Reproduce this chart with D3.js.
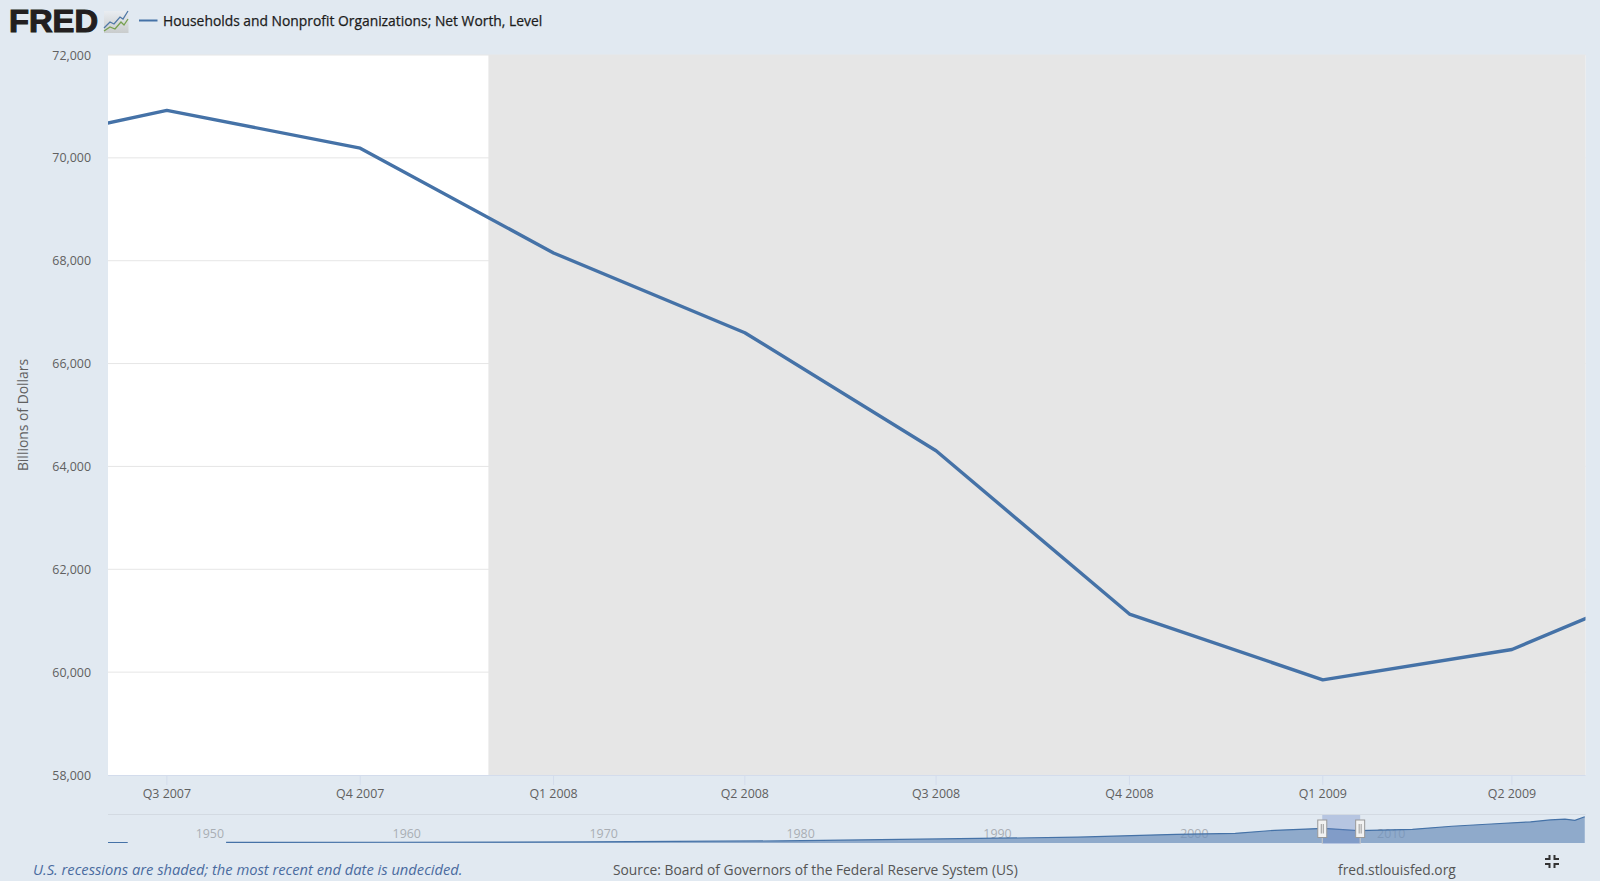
<!DOCTYPE html>
<html>
<head>
<meta charset="utf-8">
<title>FRED</title>
<script src="https://cdn.jsdelivr.net/npm/d3@7"></script>
<style>
	html, body { margin: 0; padding: 0; background: #e1e9f1; overflow: hidden; }
	svg { display: block; }
	text { font-family: "Open Sans", sans-serif; }
	.tick-label { font-size: 12.4px; fill: #606060; }
	.nav-label { font-size: 12.4px; fill: #a9aeb4; }
	.foot { font-size: 13.8px; fill: #555; }
</style>
</head>
<body>
<svg id="chart" width="1600" height="881"></svg>
<script>
var quarters = ["2007-04-01", "2007-07-01", "2007-10-01", "2008-01-01", "2008-04-01", "2008-07-01", "2008-10-01", "2009-01-01", "2009-04-01", "2009-07-01"];
var netWorth = [70120, 70924, 70189, 68150, 66600, 64305, 61130, 59850, 60440, 62000];
var tickDates = ["2007-07-01", "2007-10-01", "2008-01-01", "2008-04-01", "2008-07-01", "2008-10-01", "2009-01-01", "2009-04-01"];
var tickLabels = ["Q3 2007", "Q4 2007", "Q1 2008", "Q2 2008", "Q3 2008", "Q4 2008", "Q1 2009", "Q2 2009"];
var yTicks = [58000, 60000, 62000, 64000, 66000, 68000, 70000, 72000];
var viewStart = "2007-06-03", viewEnd = "2009-05-06";
var recession = ["2007-12-01", "2009-06-01"];

var navDates = ["1945-10-01", "1946-10-01", "1946-10-02", "1951-10-01", "1960-01-01", "1970-01-01", "1980-01-01", "1985-01-01", "1990-01-01", "1995-01-01", "2000-01-01", "2003-01-01", "2005-01-01", "2007-07-01", "2009-04-01", "2012-01-01", "2014-01-01", "2016-01-01", "2018-01-01", "2019-01-01", "2019-10-01", "2020-04-01", "2020-10-01"];
var navValues = [1000, 1100, null, 1500, 2300, 3800, 9000, 15000, 21000, 27000, 41000, 46000, 61000, 70900, 59900, 66000, 81000, 92000, 103000, 112000, 116000, 110000, 128000];
var navYears = [1950, 1960, 1970, 1980, 1990, 2000, 2010];

var blue = "#4572a7";
var date = function(s) { return new Date(s + "T00:00:00Z"); };
var svg = d3.select("#chart");

var left = 108, right = 1585.5, top_ = 55, bottom = 775;
var x = d3.scaleUtc().domain([date(viewStart), date(viewEnd)]).range([left, right]);
var y = d3.scaleLinear().domain([58000, 72000]).range([bottom, top_]);

// plot
svg.append("rect")
	.attr("x", left).attr("y", top_)
	.attr("width", right - left).attr("height", bottom - top_)
	.attr("fill", "#fff");

svg.append("defs").append("clipPath").attr("id", "plot")
	.append("rect")
	.attr("x", left).attr("y", top_)
	.attr("width", right - left).attr("height", bottom - top_);

svg.append("g").selectAll("line")
	.data(yTicks.slice(1))
	.enter()
	.append("line")
	.attr("x1", left).attr("x2", right)
	.attr("y1", function(d) { return y(d); })
	.attr("y2", function(d) { return y(d); })
	.attr("stroke", "#e6e6e6");

svg.append("rect")
	.attr("clip-path", "url(#plot)")
	.attr("x", x(date(recession[0]))).attr("y", top_)
	.attr("width", x(date(recession[1])) - x(date(recession[0])))
	.attr("height", bottom - top_)
	.attr("fill", "#e6e6e6");

svg.append("line")
	.attr("x1", left).attr("x2", right)
	.attr("y1", bottom + 0.5).attr("y2", bottom + 0.5)
	.attr("stroke", "#d3dcec");

var line = d3.line()
	.x(function(d, i) { return x(date(quarters[i])); })
	.y(function(d) { return y(d); });

svg.append("path")
	.attr("clip-path", "url(#plot)")
	.attr("d", line(netWorth))
	.attr("fill", "none")
	.attr("stroke", blue)
	.attr("stroke-width", 3.4)
	.attr("stroke-linejoin", "round");

// axes
svg.append("g").selectAll("text")
	.data(yTicks)
	.enter()
	.append("text")
	.attr("class", "tick-label")
	.attr("x", 91)
	.attr("y", function(d) { return y(d) + 4.5; })
	.attr("text-anchor", "end")
	.text(d3.format(","));

svg.append("g").selectAll("line")
	.data(tickDates)
	.enter()
	.append("line")
	.attr("x1", function(d) { return x(date(d)); })
	.attr("x2", function(d) { return x(date(d)); })
	.attr("y1", bottom).attr("y2", bottom + 10)
	.attr("stroke", "#d3dcec");

svg.append("g").selectAll("text")
	.data(tickDates)
	.enter()
	.append("text")
	.attr("class", "tick-label")
	.attr("x", function(d) { return x(date(d)); })
	.attr("y", 797.5)
	.attr("text-anchor", "middle")
	.text(function(d, i) { return tickLabels[i]; });

svg.append("text")
	.attr("transform", "translate(28,415) rotate(-90)")
	.attr("text-anchor", "middle")
	.attr("font-size", 13.9)
	.attr("fill", "#606060")
	.text("Billions of Dollars");

// navigator
var navTop = 814.5, navBottom = 843;
var nx = d3.scaleUtc().domain([date("1945-10-01"), date("2020-10-15")]).range([left, right]);
var ny = d3.scaleLinear().domain([0, 129000]).range([842.7, 816.5]);

svg.append("line")
	.attr("x1", left).attr("x2", right)
	.attr("y1", navTop).attr("y2", navTop)
	.attr("stroke", "#d3dae2");

svg.append("g").selectAll("text")
	.data(navYears)
	.enter()
	.append("text")
	.attr("class", "nav-label")
	.attr("x", function(d) { return nx(date(d + "-01-01")) + 4; })
	.attr("y", 838)
	.text(function(d) { return d; });

var navArea = d3.area()
	.defined(function(d) { return d !== null; })
	.x(function(d, i) { return nx(date(navDates[i])); })
	.y0(navBottom)
	.y1(function(d) { return ny(d); });
var navLine = d3.line()
	.defined(function(d) { return d !== null; })
	.x(function(d, i) { return nx(date(navDates[i])); })
	.y(function(d) { return ny(d); });

svg.append("path")
	.attr("d", navArea(navValues))
	.attr("fill", "#6f91bd")
	.attr("fill-opacity", 0.72);
svg.append("path")
	.attr("d", navLine(navValues))
	.attr("fill", "none")
	.attr("stroke", blue)
	.attr("stroke-width", 1.2);

var maskA = nx(date(viewStart)), maskB = nx(date(viewEnd));
svg.append("rect")
	.attr("x", maskA).attr("y", navTop + 0.5)
	.attr("width", maskB - maskA).attr("height", navBottom - navTop + 0.5)
	.attr("fill", "#6685c2")
	.attr("fill-opacity", 0.35);

var handles = svg.append("g").selectAll("g")
	.data([maskA, maskB])
	.enter()
	.append("g")
	.attr("transform", function(d) { return "translate(" + d + ",0)"; });
handles.append("line")
	.attr("y1", 838).attr("y2", 844)
	.attr("stroke", "#ccc");
handles.append("rect")
	.attr("x", -4.5).attr("y", 820)
	.attr("width", 9).attr("height", 17.5)
	.attr("fill", "#f2f2f2")
	.attr("stroke", "#999");
handles.selectAll("line.grip")
	.data([-1, 1])
	.enter()
	.append("line")
	.attr("class", "grip")
	.attr("x1", function(d) { return d; })
	.attr("x2", function(d) { return d; })
	.attr("y1", 824).attr("y2", 833.5)
	.attr("stroke", "#999");

// logo and legend
svg.append("text")
	.attr("x", 9).attr("y", 32)
	.attr("textLength", 89)
	.attr("lengthAdjust", "spacingAndGlyphs")
	.attr("font-size", 30.5)
	.attr("font-weight", 700)
	.attr("fill", "#231f20")
	.attr("stroke", "#231f20")
	.attr("stroke-width", 1.1)
	.style("font-family", "'Liberation Sans'")
	.text("FRED");

var iconGrad = svg.select("defs").append("linearGradient")
	.attr("id", "icon").attr("x1", 0).attr("x2", 0).attr("y1", 0).attr("y2", 1);
iconGrad.append("stop").attr("offset", "0").attr("stop-color", "#e9edf1");
iconGrad.append("stop").attr("offset", "1").attr("stop-color", "#c9cccc");
svg.append("rect")
	.attr("x", 104).attr("y", 11)
	.attr("width", 24.5).attr("height", 22)
	.attr("fill", "url(#icon)");
svg.append("polyline")
	.attr("points", "104,28 110,22 114,24 120,17 123,19 128,11")
	.attr("fill", "none").attr("stroke", "#4f78a6").attr("stroke-width", 1.3);
svg.append("polyline")
	.attr("points", "104,31 110,27 115,29 121,22 124,25 128,19")
	.attr("fill", "none").attr("stroke", "#76a04f").attr("stroke-width", 1.3);

svg.append("line")
	.attr("x1", 139).attr("x2", 157.5)
	.attr("y1", 20.5).attr("y2", 20.5)
	.attr("stroke", blue)
	.attr("stroke-width", 2);
svg.append("text")
	.attr("x", 163)
	.attr("y", 26)
	.attr("font-size", 13.85)
	.attr("fill", "#1c1c1c")
	.attr("stroke", "#1c1c1c")
	.attr("stroke-width", 0.25)
	.text("Households and Nonprofit Organizations; Net Worth, Level");

// footer
svg.append("text")
	.attr("class", "foot")
	.attr("x", 33).attr("y", 875)
	.attr("font-style", "italic")
	.style("font-size", "14.7px")
	.style("fill", "#4a6b9f")
	.text("U.S. recessions are shaded; the most recent end date is undecided.");
svg.append("text")
	.attr("class", "foot")
	.attr("x", 613).attr("y", 875)
	.text("Source: Board of Governors of the Federal Reserve System (US)");
svg.append("text")
	.attr("class", "foot")
	.attr("x", 1338).attr("y", 875)
	.text("fred.stlouisfed.org");

// collapse icon
var corners = [[1, 1], [-1, 1], [1, -1], [-1, -1]];
svg.append("g")
	.attr("transform", "translate(1552,861.5)")
	.selectAll("path")
	.data(corners)
	.enter()
	.append("path")
	.attr("d", function(d) {
		var a = d[0], b = d[1];
		return "M" + a * 1.5 + "," + b * 1.5 + "H" + a * 7 + "V" + b * 3.5 + "H" + a * 3.5 + "V" + b * 6.5 + "H" + a * 1.5 + "Z";
	})
	.attr("fill", "#333");
</script>
</body>
</html>
